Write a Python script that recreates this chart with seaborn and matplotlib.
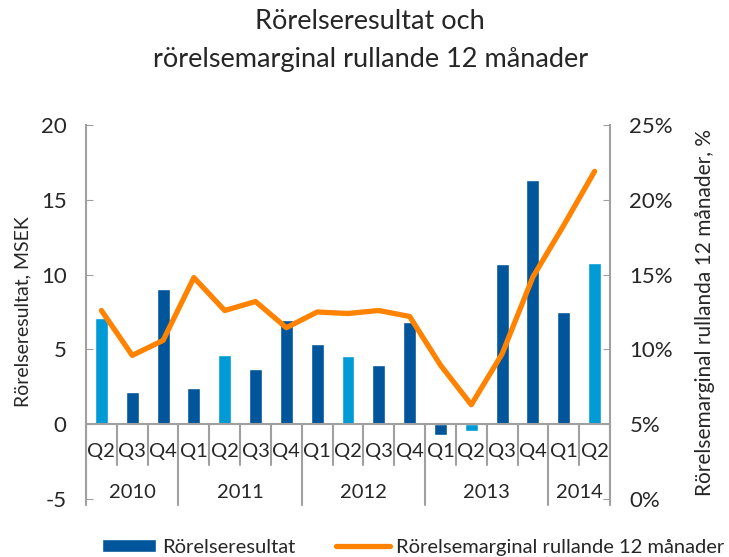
import numpy as np
import pandas as pd
import matplotlib
matplotlib.use("Agg")
import matplotlib.pyplot as plt
import seaborn as sns
from matplotlib.patches import Patch
from matplotlib.lines import Line2D
from matplotlib.ticker import FuncFormatter

quarters = ["Q2", "Q3", "Q4", "Q1", "Q2", "Q3", "Q4", "Q1", "Q2", "Q3", "Q4",
            "Q1", "Q2", "Q3", "Q4", "Q1", "Q2"]
years = [2010, 2010, 2010, 2011, 2011, 2011, 2011, 2012, 2012, 2012, 2012,
         2013, 2013, 2013, 2013, 2014, 2014]
resultat = [7.1, 2.15, 9.05, 2.45, 4.6, 3.7, 6.95, 5.33, 4.55, 3.95, 6.8,
            -0.7, -0.45, 10.7, 16.3, 7.5, 10.75]
marginal = [12.6, 9.6, 10.6, 14.8, 12.6, 13.2, 11.45, 12.5, 12.4, 12.6, 12.2,
            8.95, 6.3, 9.7, 14.85, 18.3, 21.9]

DARK = "#00559b"
LIGHT = "#009ad6"
ORANGE = "#ff8200"
GREY = "#a0a0a0"

sns.set_style("white")
plt.rcParams['font.family'] = ['Lato', 'DejaVu Sans']
plt.rcParams['axes.unicode_minus'] = False

df = pd.DataFrame({"idx": range(len(quarters)), "q": quarters, "year": years,
                   "res": resultat, "marg": marginal})
bar_colors = [LIGHT if q == "Q2" else DARK for q in quarters]

fig = plt.figure(figsize=(7.29, 5.57), dpi=100)
ax = fig.add_axes([86 / 729, 1 - 499 / 557, 524 / 729, 374 / 557])

sns.barplot(data=df, x="idx", y="res", hue="idx", palette=bar_colors,
            legend=False, width=0.42, saturation=1, ax=ax)
ax.set_xlim(-0.5, len(quarters) - 0.5)
ax.set_ylim(-5, 20)
ax.set_yticks([-5, 0, 5, 10, 15, 20])
ax.set_xticks([])
ax.set_xlabel("")
ax.set_ylabel("Rörelseresultat, MSEK", fontsize=14, labelpad=7)
ax.tick_params(axis="y", direction="in", length=5, color=GREY, labelsize=16, pad=14)
for s in ["top", "bottom", "right"]:
    ax.spines[s].set_visible(False)
ax.spines["left"].set_color(GREY)
ax.spines["left"].set_linewidth(1.5)

# category axis at zero
ax.axhline(0, color=GREY, lw=1.5, zorder=3)
for i in range(len(quarters) + 1):
    x = i - 0.5
    new_year = i == 0 or i == len(quarters) or years[i] != years[i - 1]
    y_end = -5.4 if new_year else -2.75
    ax.plot([x, x], [0, y_end], color=GREY, lw=1.5, clip_on=False)
for i, q in enumerate(quarters):
    ax.text(i, -1.85, q, ha="center", va="center", fontsize=14.5)
for y in sorted(set(years)):
    idx = [i for i, yy in enumerate(years) if yy == y]
    ax.text(np.mean(idx), -4.55, str(y), ha="center", va="center", fontsize=14.5)

ax2 = ax.twinx()
sns.lineplot(data=df, x="idx", y="marg", color=ORANGE, lw=3.8, ax=ax2,
             solid_capstyle="round")
ax2.set_ylim(0, 25)
ax2.set_yticks([0, 5, 10, 15, 20, 25])
ax2.yaxis.set_major_formatter(FuncFormatter(lambda v, p: f"{v:.0f}%"))
ax2.set_xlim(-0.5, len(quarters) - 0.5)
ax2.set_xlabel("")
ax2.set_ylabel("Rörelsemarginal rullanda 12 månader, %", fontsize=15, labelpad=16)
ax2.tick_params(axis="y", direction="in", length=5, color=GREY, labelsize=16, pad=14)
for s in ["top", "bottom", "left"]:
    ax2.spines[s].set_visible(False)
ax2.spines["right"].set_color(GREY)
ax2.spines["right"].set_linewidth(1.5)

fig.text(0.508, 0.962, "Rörelseresultat och", ha="center", va="center", fontsize=19.5)
fig.text(0.508, 0.893, "rörelsemarginal rullande 12 månader", ha="center",
         va="center", fontsize=19.5)

handles = [Patch(facecolor=DARK, label="Rörelseresultat"),
           Line2D([0], [0], color=ORANGE, lw=3.8, solid_capstyle="round",
                  label="Rörelsemarginal rullande 12 månader")]
fig.legend(handles=handles, loc="lower left", bbox_to_anchor=(102 / 729, 0.002),
           ncol=2, frameon=False, fontsize=14.5, handlelength=2.7, handleheight=0.6,
           handletextpad=0.3, columnspacing=2.0, borderpad=0, borderaxespad=0)

fig.savefig("out.png", dpi=100)
